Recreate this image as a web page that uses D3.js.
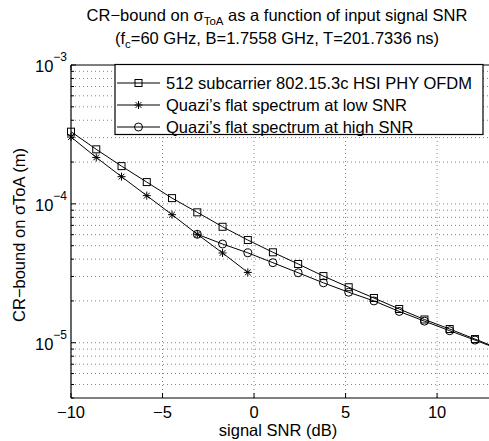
<!DOCTYPE html>
<html><head><meta charset="utf-8">
<script src="https://cdn.jsdelivr.net/npm/d3@7"></script>
<style>
body{margin:0;background:#fff}
text{font-family:"Liberation Sans",Arial,Helvetica,sans-serif;fill:#000}
</style>
</head><body>
<svg id="c" width="489" height="441"></svg>
<script>
// ---- data ----
const snrOFDM = [-10, -8.62, -7.24, -5.86, -4.48, -3.10, -1.72, -0.34, 1.03, 2.41, 3.79, 5.17, 6.55, 7.93, 9.31, 10.69, 12.07, 13.45];
const ofdm    = [3.31e-4, 2.47e-4, 1.87e-4, 1.435e-4, 1.10e-4, 8.69e-5, 6.84e-5, 5.49e-5, 4.48e-5, 3.69e-5, 3.02e-5, 2.51e-5, 2.10e-5, 1.75e-5, 1.47e-5, 1.255e-5, 1.063e-5, 9.0e-6];
const snrLow  = [-10, -8.62, -7.24, -5.86, -4.48, -3.10, -1.72, -0.34];
const lowSNR  = [3.03e-4, 2.16e-4, 1.57e-4, 1.146e-4, 8.36e-5, 6.04e-5, 4.43e-5, 3.21e-5];
const snrHigh = [-3.10, -1.72, -0.34, 1.03, 2.41, 3.79, 5.17, 6.55, 7.93, 9.31, 10.69, 12.07, 13.45];
const highSNR = [6.04e-5, 5.14e-5, 4.44e-5, 3.77e-5, 3.19e-5, 2.70e-5, 2.31e-5, 2.00e-5, 1.68e-5, 1.43e-5, 1.22e-5, 1.045e-5, 8.9e-6];
const xTicks  = [-10, -5, 0, 5, 10];
const yMajor  = [1e-3, 1e-4, 1e-5];
const yExpLabels = ["\u22123", "\u22124", "\u22125"];
const legendLabels = ["512 subcarrier 802.15.3c HSI PHY OFDM", "Quazi\u2019s flat spectrum at low SNR", "Quazi\u2019s flat spectrum at high SNR"];
const markerTypes = ["square", "star", "circle"];

const FS = 16.5, FSS = 12;
const svg = d3.select("#c");
const L = 71, R = 492, T = 65, B = 398;
const x = d3.scaleLinear().domain([-10, 13]).range([L, R]);
const y = d3.scaleLog().domain([4e-6, 1e-3]).range([B, T]);

// grid
const g = svg.append("g");
g.selectAll("line.vg").data(xTicks.filter(d => d > -10)).join("line")
  .attr("x1", d => x(d)).attr("x2", d => x(d)).attr("y1", T).attr("y2", B)
  .attr("stroke", "#666").attr("stroke-width", 0.8).attr("stroke-dasharray", "1,3");
const yGrid = y.ticks().filter(d => d > 4.01e-6 && d < 0.99e-3);
g.selectAll("line.hg").data(yGrid).join("line")
  .attr("x1", L).attr("x2", R).attr("y1", d => y(d)).attr("y2", d => y(d))
  .attr("stroke", "#666").attr("stroke-width", 0.8).attr("stroke-dasharray", "1,3");

// axes box
svg.append("line").attr("x1", L).attr("x2", L).attr("y1", T).attr("y2", B).attr("stroke", "#000").attr("stroke-width", 1.2);
svg.append("line").attr("x1", L).attr("x2", R).attr("y1", B).attr("y2", B).attr("stroke", "#000").attr("stroke-width", 1.2);
svg.append("line").attr("x1", L).attr("x2", R).attr("y1", T).attr("y2", T).attr("stroke", "#000").attr("stroke-width", 1.2);

// ticks
svg.selectAll("line.xt").data(xTicks).join("line")
  .attr("x1", d => x(d)).attr("x2", d => x(d)).attr("y1", B).attr("y2", B - 5).attr("stroke", "#000");
svg.selectAll("line.xt2").data(xTicks).join("line")
  .attr("x1", d => x(d)).attr("x2", d => x(d)).attr("y1", T).attr("y2", T + 5).attr("stroke", "#000");
svg.selectAll("line.yt").data(y.ticks()).join("line")
  .attr("x1", L).attr("x2", d => L + (yMajor.includes(d) ? 5 : 3))
  .attr("y1", d => y(d)).attr("y2", d => y(d)).attr("stroke", "#000");

// tick labels
svg.selectAll("text.xl").data(xTicks).join("text")
  .attr("x", d => x(d)).attr("y", 418).attr("text-anchor", "middle").attr("font-size", FS)
  .text(d => d < 0 ? "\u2212" + Math.abs(d) : d);
yMajor.forEach((v, i) => {
  const t = svg.append("text").attr("x", 67).attr("y", y(v) + 7).attr("text-anchor", "end").attr("font-size", FS);
  t.append("tspan").text("10");
  t.append("tspan").attr("font-size", FSS).attr("dy", -11).text(yExpLabels[i]);
});

// axis labels
svg.append("text").attr("x", 278).attr("y", 436).attr("text-anchor", "middle").attr("font-size", FS).text("signal SNR (dB)");
const yl = svg.append("text").attr("transform", "translate(25,235) rotate(-90)").attr("text-anchor", "middle").attr("font-size", FS);
yl.text("CR\u2212bound on \u03c3ToA (m)");

// title
const t1 = svg.append("text").attr("x", 277).attr("y", 21).attr("text-anchor", "middle").attr("font-size", FS);
t1.append("tspan").text("CR\u2212bound on \u03c3");
t1.append("tspan").attr("font-size", 11.5).attr("dy", 4).text("ToA");
t1.append("tspan").attr("dy", -4).text(" as a function of input signal SNR");
const t2 = svg.append("text").attr("x", 277).attr("y", 44).attr("text-anchor", "middle").attr("font-size", FS);
t2.append("tspan").text("(f");
t2.append("tspan").attr("font-size", 11.5).attr("dy", 4).text("c");
t2.append("tspan").attr("dy", -4).text("=60 GHz, B=1.7558 GHz, T=201.7336 ns)");

// markers
function drawMarker(sel, type, cx, cy) {
  if (type === "square") {
    sel.append("rect").attr("x", cx - 3.5).attr("y", cy - 3.5).attr("width", 7).attr("height", 7)
      .attr("fill", "none").attr("stroke", "#000").attr("stroke-width", 1);
  } else if (type === "circle") {
    sel.append("circle").attr("cx", cx).attr("cy", cy).attr("r", 4)
      .attr("fill", "none").attr("stroke", "#000").attr("stroke-width", 1);
  } else {
    const s = 4, d = 2.9;
    const p = `M${cx - s},${cy}L${cx + s},${cy}M${cx},${cy - s}L${cx},${cy + s}M${cx - d},${cy - d}L${cx + d},${cy + d}M${cx - d},${cy + d}L${cx + d},${cy - d}`;
    sel.append("path").attr("d", p).attr("stroke", "#000").attr("stroke-width", 1).attr("fill", "none");
  }
}
const line = d3.line().x(d => x(d[0])).y(d => y(d[1]));
const series = [
  {xs: snrOFDM, ys: ofdm, m: markerTypes[0]},
  {xs: snrLow, ys: lowSNR, m: markerTypes[1]},
  {xs: snrHigh, ys: highSNR, m: markerTypes[2]}
];
const plotG = svg.append("g");
series.forEach(s => {
  const pts = s.xs.map((v, i) => [v, s.ys[i]]);
  plotG.append("path").attr("d", line(pts)).attr("fill", "none").attr("stroke", "#000").attr("stroke-width", 1);
  pts.forEach(p => drawMarker(plotG, s.m, x(p[0]), y(p[1])));
});

// legend
const lg = svg.append("g");
lg.append("rect").attr("x", 115).attr("y", 64.5).attr("width", 368).attr("height", 70)
  .attr("fill", "#fff").attr("stroke", "#000").attr("stroke-width", 1.2);
const rowsY = [83, 105, 127];
legendLabels.forEach((lab, i) => {
  lg.append("line").attr("x1", 117).attr("x2", 160).attr("y1", rowsY[i]).attr("y2", rowsY[i]).attr("stroke", "#000");
  drawMarker(lg, markerTypes[i], 138.5, rowsY[i]);
  lg.append("text").attr("x", 166).attr("y", rowsY[i] + 6).attr("font-size", FS).text(lab);
});
</script>
</body></html>
